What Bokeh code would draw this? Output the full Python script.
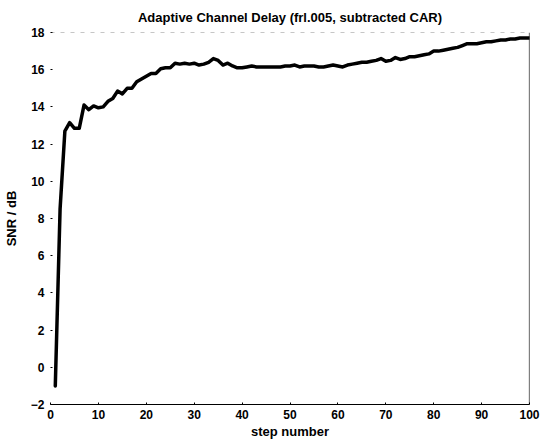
from bokeh.plotting import figure
from bokeh.models import FixedTicker, Range1d, Span
from bokeh.embed import file_html
from bokeh.resources import INLINE

title_text = "Adaptive Channel Delay (frl.005, subtracted CAR)"
x_label = "step number"
y_label = "SNR / dB"

steps = list(range(1, 101))
snr = [
    -1.0, 8.5, 12.7, 13.15, 12.85, 12.85, 14.1, 13.85, 14.05, 13.95,
    14.0, 14.3, 14.45, 14.85, 14.7, 15.0, 15.0, 15.35, 15.5, 15.65,
    15.8, 15.8, 16.05, 16.1, 16.1, 16.35, 16.3, 16.35, 16.3, 16.35,
    16.25, 16.3, 16.4, 16.6, 16.5, 16.25, 16.35, 16.2, 16.1, 16.1,
    16.15, 16.2, 16.15, 16.15, 16.15, 16.15, 16.15, 16.15, 16.2, 16.2,
    16.25, 16.15, 16.2, 16.2, 16.2, 16.15, 16.15, 16.2, 16.25, 16.2,
    16.15, 16.25, 16.3, 16.35, 16.4, 16.4, 16.45, 16.5, 16.6, 16.45,
    16.5, 16.65, 16.55, 16.6, 16.7, 16.7, 16.75, 16.8, 16.85, 17.0,
    17.0, 17.05, 17.1, 17.15, 17.2, 17.3, 17.4, 17.4, 17.4, 17.45,
    17.5, 17.5, 17.55, 17.6, 17.6, 17.65, 17.65, 17.7, 17.7, 17.7,
]
x_ticks = [0, 10, 20, 30, 40, 50, 60, 70, 80, 90, 100]
y_ticks = [-2, 0, 2, 4, 6, 8, 10, 12, 14, 16, 18]

FONT = "Liberation Sans"

p = figure(
    frame_width=479, frame_height=372,
    x_range=Range1d(x_ticks[0], x_ticks[-1]),
    y_range=Range1d(y_ticks[0], y_ticks[-1]),
    output_backend="svg", toolbar_location=None,
    min_border_left=42, min_border_right=12,
    min_border_top=29, min_border_bottom=34,
    title=title_text,
)
p.background_fill_color = "white"
p.border_fill_color = "white"
p.outline_line_color = None
p.xgrid.visible = False
p.ygrid.visible = False

p.title.text_font = FONT
p.title.text_font_style = "bold"
p.title.text_font_size = "13px"
p.title.align = "center"
p.title.standoff = 15
p.title.text_color = "black"

for ax in (p.xaxis[0], p.yaxis[0]):
    ax.major_label_text_font = FONT
    ax.major_label_text_font_style = "bold"
    ax.major_label_text_font_size = "12px"
    ax.major_label_text_color = "black"
    ax.axis_label_text_font = FONT
    ax.axis_label_text_font_style = "bold"
    ax.axis_label_text_font_size = "13px"
    ax.axis_label_text_color = "black"
    ax.minor_tick_line_color = None
    ax.major_tick_out = 0
    ax.major_tick_in = 2
    ax.major_tick_line_color = "black"

p.xaxis[0].ticker = FixedTicker(ticks=x_ticks)
p.yaxis[0].ticker = FixedTicker(ticks=y_ticks)
p.xaxis[0].axis_label = x_label
p.yaxis[0].axis_label = y_label
p.xaxis[0].axis_line_color = "black"
p.xaxis[0].axis_line_width = 1.2
p.xaxis[0].major_label_standoff = 5
p.xaxis[0].axis_label_standoff = 2
p.yaxis[0].axis_line_color = None
p.yaxis[0].major_label_standoff = 6
p.yaxis[0].axis_label_standoff = 9

right_edge = Span(location=x_ticks[-1], dimension="height",
                  line_color="black", line_width=1.2)
p.add_layout(right_edge)

top_edge = Span(location=y_ticks[-1], dimension="width",
                line_color="black", line_alpha=0.45, line_dash="4 6", line_width=1)
p.add_layout(top_edge)

p.line(steps, snr, line_color="black", line_width=3.5, line_join="round", line_cap="round")

open("out.html", "w").write(file_html(p, INLINE))
